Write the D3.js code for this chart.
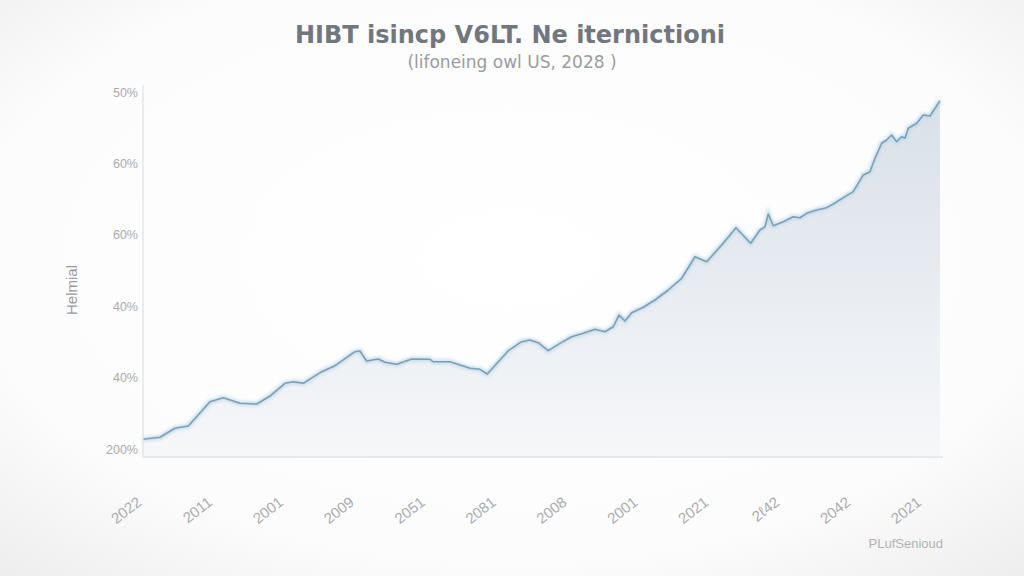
<!DOCTYPE html>
<html>
<head>
<meta charset="utf-8">
<script src="https://cdn.jsdelivr.net/npm/d3@7"></script>
<style>
  html, body { margin: 0; padding: 0; background: #ffffff; }
  svg { display: block; }
</style>
</head>
<body>
<svg id="chart" width="1024" height="576"></svg>
<script>
// ---- Data ----
const titleText = "HIBT isincp V6LT. Ne iternictioni";
const subtitleText = "(lifoneing owl US, 2028 )";
const yAxisTitle = "Helmial";
const footerText = "PLufSenioud";

const xTickLabels = ["2022", "2011", "2001", "2009", "2051", "2081", "2008", "2001", "2021", "2ℓ42", "2042", "2021"];
const yTickLabels = ["200%", "40%", "40%", "60%", "60%", "50%"];

// position along x (in tick units) and value (in y tick units)
const xPos = [0, 0.24, 0.451, 0.639, 0.945, 1.133, 1.368, 1.604, 1.791, 2.003, 2.12, 2.261, 2.52, 2.708, 2.99, 3.06, 3.155, 3.319, 3.413, 3.578, 3.79, 4.048, 4.094, 4.33, 4.612, 4.753, 4.856, 5.152, 5.341, 5.458, 5.575, 5.716, 5.881, 6.046, 6.21, 6.375, 6.516, 6.633, 6.714, 6.798, 6.893, 7.056, 7.221, 7.409, 7.598, 7.786, 7.951, 8.162, 8.364, 8.571, 8.702, 8.773, 8.82, 8.89, 9.031, 9.172, 9.267, 9.361, 9.502, 9.643, 9.736, 9.901, 10.018, 10.159, 10.254, 10.324, 10.419, 10.489, 10.56, 10.63, 10.701, 10.748, 10.794, 10.913, 11.006, 11.1, 11.241];
const values = [0.136, 0.164, 0.29, 0.322, 0.662, 0.718, 0.64, 0.63, 0.742, 0.92, 0.943, 0.92, 1.083, 1.167, 1.363, 1.373, 1.232, 1.261, 1.214, 1.186, 1.261, 1.256, 1.223, 1.223, 1.13, 1.116, 1.05, 1.377, 1.503, 1.527, 1.489, 1.377, 1.48, 1.573, 1.62, 1.676, 1.643, 1.713, 1.877, 1.793, 1.909, 1.985, 2.087, 2.227, 2.391, 2.693, 2.623, 2.857, 3.099, 2.881, 3.067, 3.113, 3.291, 3.127, 3.183, 3.253, 3.239, 3.301, 3.347, 3.38, 3.431, 3.534, 3.604, 3.838, 3.884, 4.071, 4.282, 4.328, 4.398, 4.304, 4.374, 4.352, 4.492, 4.562, 4.678, 4.664, 4.878];

const data = xPos.map((x, i) => ({ x: x, y: values[i] }));

// ---- Layout ----
const svg = d3.select("#chart");
const W = 1024, H = 576;
const plotLeft = 143, plotRight = 942, plotBottom = 457, plotTop = 85;
const FONT = "'Liberation Sans', Arial, sans-serif";
const WIDE = "'DejaVu Sans', Verdana, sans-serif";

const x = d3.scaleLinear().domain([0, 11.27]).range([plotLeft, plotRight]);
const y = d3.scaleLinear().domain([-0.112, 5]).range([plotBottom, 92]);

const defs = svg.append("defs");
const bg = defs.append("radialGradient").attr("id", "bg").attr("cx", "50%").attr("cy", "45%").attr("r", "75%");
bg.append("stop").attr("offset", "0%").attr("stop-color", "#ffffff");
bg.append("stop").attr("offset", "70%").attr("stop-color", "#fcfcfc");
bg.append("stop").attr("offset", "100%").attr("stop-color", "#ededed");

const areaGrad = defs.append("linearGradient").attr("id", "areaGrad").attr("x1", 0).attr("y1", 0).attr("x2", 0).attr("y2", 1);
areaGrad.append("stop").attr("offset", "0%").attr("stop-color", "#d9e0e8");
areaGrad.append("stop").attr("offset", "55%").attr("stop-color", "#e9edf2");
areaGrad.append("stop").attr("offset", "100%").attr("stop-color", "#f6f7f9");

const glow = defs.append("filter").attr("id", "glow").attr("x", "-5%").attr("y", "-5%").attr("width", "110%").attr("height", "110%");
glow.append("feGaussianBlur").attr("stdDeviation", 1.6);

svg.append("rect").attr("width", W).attr("height", H).attr("fill", "url(#bg)");

// Area
const area = d3.area().x(d => x(d.x)).y0(plotBottom).y1(d => y(d.y));
svg.append("path").datum(data).attr("d", area).attr("fill", "url(#areaGrad)");

// Line glow + line
const line = d3.line().x(d => x(d.x)).y(d => y(d.y));
svg.append("path").datum(data).attr("d", line)
  .attr("fill", "none").attr("stroke", "#bcd8ea").attr("stroke-width", 5)
  .attr("opacity", 0.75).attr("filter", "url(#glow)");
svg.append("path").datum(data).attr("d", line)
  .attr("fill", "none").attr("stroke", "#7d9fb3").attr("stroke-width", 1.6)
  .attr("stroke-linejoin", "round");

// Axes lines
svg.append("line").attr("x1", plotLeft).attr("x2", plotLeft).attr("y1", plotTop).attr("y2", plotBottom)
  .attr("stroke", "#dde1e6").attr("stroke-width", 1.2);
svg.append("line").attr("x1", plotLeft).attr("x2", plotRight + 1).attr("y1", plotBottom).attr("y2", plotBottom)
  .attr("stroke", "#e6e8eb").attr("stroke-width", 2);

// Y axis ticks
const yAxis = d3.axisLeft(y).tickValues(d3.range(yTickLabels.length))
  .tickFormat(i => yTickLabels[i]).tickSize(0).tickPadding(5);
const gy = svg.append("g").attr("transform", `translate(${plotLeft},0)`).call(yAxis);
gy.select(".domain").remove();
gy.selectAll("text").attr("fill", "#a9abae").attr("font-size", 12.5)
  .attr("font-family", FONT);

// X axis ticks (rotated)
const xAxis = d3.axisBottom(x).tickValues(d3.range(xTickLabels.length))
  .tickFormat(i => xTickLabels[i]).tickSize(0);
const gx = svg.append("g").attr("transform", `translate(0,${plotBottom})`).call(xAxis);
gx.select(".domain").remove();
gx.selectAll("text")
  .attr("fill", "#a9abae").attr("font-size", 15)
  .attr("font-family", FONT)
  .attr("text-anchor", "end")
  .attr("dy", 0)
  .attr("y", 0)
  .attr("transform", "translate(-1,47) rotate(-38)");

// Y axis title
svg.append("text").attr("transform", "translate(77,290) rotate(-90)")
  .attr("text-anchor", "middle").attr("fill", "#999ba0").attr("font-size", 15)
  .attr("font-family", FONT)
  .text(yAxisTitle);

// Title / subtitle
svg.append("text").attr("x", 510).attr("y", 43).attr("text-anchor", "middle")
  .attr("fill", "#72767d").attr("font-size", 24).attr("font-weight", 600)
  .attr("font-family", WIDE)
  .text(titleText);
svg.append("text").attr("x", 512).attr("y", 68).attr("text-anchor", "middle")
  .attr("fill", "#9a9ca0").attr("font-size", 17)
  .attr("font-family", WIDE)
  .text(subtitleText);

// Footer
svg.append("text").attr("x", 943).attr("y", 548).attr("text-anchor", "end")
  .attr("fill", "#b0b2b5").attr("font-size", 13)
  .attr("font-family", FONT)
  .text(footerText);
</script>
</body>
</html>
